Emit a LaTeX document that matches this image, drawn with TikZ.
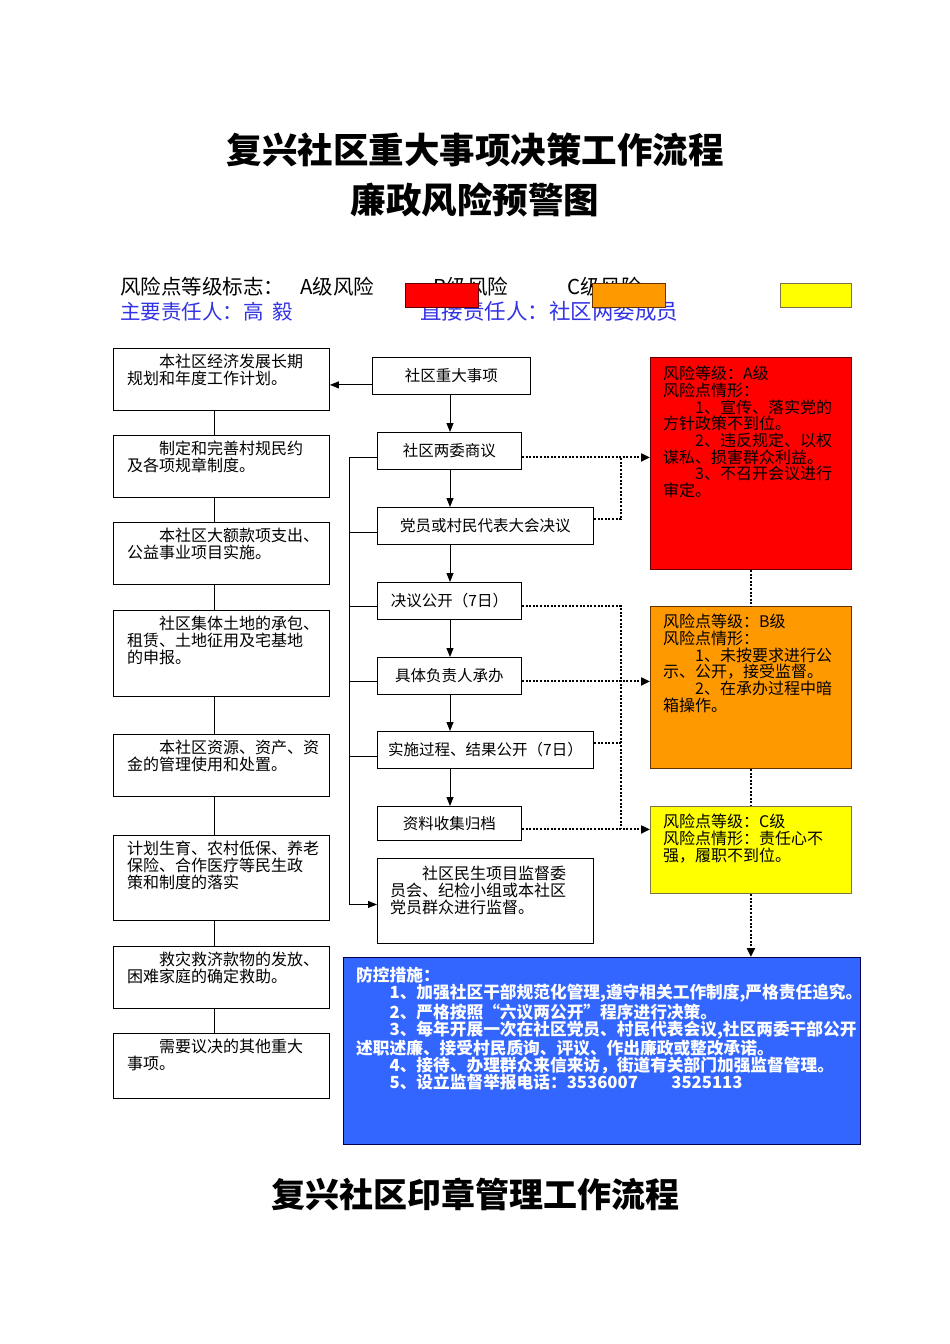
\documentclass[tikz,border=0pt]{standalone}
\usepackage{fontspec}
\setmainfont{Noto Sans CJK SC}
\usetikzlibrary{arrows.meta,positioning}
\definecolor{riskred}{RGB}{255,0,0}
\definecolor{riskorange}{RGB}{255,153,0}
\definecolor{riskyellow}{RGB}{255,255,0}
\definecolor{measureblue}{RGB}{51,102,255}
\definecolor{inkblue}{RGB}{51,51,230}
\tikzset{
  itembox/.style={draw, line width=0.9pt, anchor=north west, inner sep=0pt},
  itemtext/.style={anchor=north west, align=left, inner sep=0pt, font=\fontsize{16}{17}\selectfont},
  stepbox/.style={itembox, align=center, font=\fontsize{15.5}{17}\selectfont},
  riskbox/.style={itembox, minimum width=201, minimum height=#1},
  legendbox/.style={draw, line width=0.9pt, minimum width=73, minimum height=24, inner sep=0pt},
  link/.style={line width=0.9pt},
  flow/.style={line width=0.9pt, -{Triangle[length=9pt,width=7pt]}},
  riskline/.style={line width=2pt, dash pattern=on 2pt off 1.6pt},
  riskarrow/.style={riskline, -{Triangle[length=9pt,width=8pt]}}
}
\begin{document}
\begin{tikzpicture}[x=1pt, y=-1pt]
  \path[fill=white] (0,0) rectangle (950,1344);
  \node[font=\fontsize{35.5}{40}\selectfont\bfseries] (title1) at (475,150) {复兴社区重大事项决策工作流程};
  \node[font=\fontsize{35.5}{40}\selectfont\bfseries] (title2) at (475,200) {廉政风险预警图};
  \node[font=\fontsize{34}{38}\selectfont\bfseries] (title3) at (475,1194) {复兴社区印章管理工作流程};

  \node[anchor=west, inner sep=0pt, font=\fontsize{20.5}{22}\selectfont] (legend) at (120,287) {风险点等级标志：};
  \node[anchor=west, inner sep=0pt, font=\fontsize{20.5}{22}\selectfont] (legA) at (300,287) {A级风险};
  \node[anchor=west, inner sep=0pt, font=\fontsize{20.5}{22}\selectfont] (legB) at (433,287) {B级风险};
  \node[anchor=west, inner sep=0pt, font=\fontsize{20.5}{22}\selectfont] (legC) at (567,287) {C级风险};
  \node[anchor=west, inner sep=0pt, text=inkblue, font=\fontsize{20.5}{22}\selectfont] (chief) at (120,311.5) {主要责任人：高\ \ 毅};
  \node[anchor=west, inner sep=0pt, text=inkblue, font=\fontsize{21.5}{22}\selectfont] (direct) at (420,311.5) {直接责任人：社区两委成员};
  \node[legendbox, fill=riskred, draw=red!40!black, anchor=north west] (keyA) at (405,283) {};
  \node[legendbox, fill=riskorange, draw=orange!40!black, anchor=north west] (keyB) at (592,283) {};
  \node[legendbox, fill=riskyellow, draw=yellow!40!black, anchor=north west, minimum width=71] (keyC) at (780,283) {};

  \node[itembox, minimum width=216, minimum height=62] (plan) at (113,348) {};
  \node[itembox, minimum width=216, minimum height=62] (rules) at (113,435) {};
  \node[itembox, minimum width=216, minimum height=62] (spend) at (113,522) {};
  \node[itembox, minimum width=216, minimum height=86] (land) at (113,610) {};
  \node[itembox, minimum width=216, minimum height=62] (asset) at (113,734) {};
  \node[itembox, minimum width=216, minimum height=85] (welfare) at (113,835) {};
  \node[itembox, minimum width=216, minimum height=62] (relief) at (113,946) {};
  \node[itembox, minimum width=216, minimum height=65] (other) at (113,1033) {};
  \node[itemtext] (plantext) at ([shift={(14,6)}]plan.north west) {　　本社区经济发展长期\\规划和年度工作计划。};
  \node[itemtext] (rulestext) at ([shift={(14,6)}]rules.north west) {　　制定和完善村规民约\\及各项规章制度。};
  \node[itemtext] (spendtext) at ([shift={(14,6)}]spend.north west) {　　本社区大额款项支出、\\公益事业项目实施。};
  \node[itemtext] (landtext) at ([shift={(14,6)}]land.north west) {　　社区集体土地的承包、\\租赁、土地征用及宅基地\\的申报。};
  \node[itemtext] (assettext) at ([shift={(14,6)}]asset.north west) {　　本社区资源、资产、资\\金的管理使用和处置。};
  \node[itemtext] (welfaretext) at ([shift={(14,6)}]welfare.north west) {计划生育、农村低保、养老\\保险、合作医疗等民生政\\策和制度的落实};
  \node[itemtext] (relieftext) at ([shift={(14,6)}]relief.north west) {　　救灾救济款物的发放、\\困难家庭的确定救助。};
  \node[itemtext] (othertext) at ([shift={(14,6)}]other.north west) {　　需要议决的其他重大\\事项。};

  \node[stepbox, minimum width=158, minimum height=37] (major) at (372,357) {社区重大事项};
  \node[stepbox, minimum width=144, minimum height=37] (council) at (377,432) {社区两委商议};
  \node[stepbox, minimum width=216, minimum height=37] (vote) at (377,507) {党员或村民代表大会决议};
  \node[stepbox, minimum width=144, minimum height=37] (pub) at (377,582) {决议公开（7日）};
  \node[stepbox, minimum width=144, minimum height=37] (handle) at (377,657) {具体负责人承办};
  \node[stepbox, minimum width=216, minimum height=37] (impl) at (377,731) {实施过程、结果公开（7日）};
  \node[stepbox, minimum width=144, minimum height=34] (archive) at (377,806) {资料收集归档};
  \node[itembox, minimum width=216, minimum height=85] (monitor) at (377,858) {};
  \node[itemtext] (monitortext) at ([shift={(13,8)}]monitor.north west) {　　社区民生项目监督委\\员会、纪检小组或本社区\\党员群众进行监督。};

  \node[riskbox=212, fill=riskred, draw=red!40!black] (riskA) at (650,357) {};
  \node[riskbox=162, fill=riskorange, draw=orange!40!black] (riskB) at (650,606) {};
  \node[riskbox=87, fill=riskyellow, draw=yellow!40!black] (riskC) at (650,806) {};
  \node[itemtext, font=\fontsize{16}{16.7}\selectfont] (riskAtext) at ([shift={(13,9)}]riskA.north west) {风险等级：A级\\风险点情形：\\　　1、宣传、落实党的\\方针政策不到位。\\　　2、违反规定、以权\\谋私、损害群众利益。\\　　3、不召开会议进行\\审定。};
  \node[itemtext, font=\fontsize{16}{16.7}\selectfont] (riskBtext) at ([shift={(13,8)}]riskB.north west) {风险点等级：B级\\风险点情形：\\　　1、未按要求进行公\\示、公开，接受监督。\\　　2、在承办过程中暗\\箱操作。};
  \node[itemtext, font=\fontsize{16}{16.7}\selectfont] (riskCtext) at ([shift={(13,8)}]riskC.north west) {风险点等级：C级\\风险点情形：责任心不\\强，履职不到位。};

  \node[itembox, minimum width=517, minimum height=187, fill=measureblue, draw=blue!30!black] (measure) at (343,957) {};
  \node[itemtext, text=white, font=\fontsize{16.7}{17.2}\selectfont\bfseries] (measuretext) at ([shift={(13,10)}]measure.north west) {防控措施：\\　　1、加强社区干部规范化管理,遵守相关工作制度,严格责任追究。\\　　2、严格按照“六议两公开”程序进行决策。\\　　3、每年开展一次在社区党员、村民代表会议,社区两委干部公开\\述职述廉、接受村民质询、评议、作出廉政或整改承诺。\\　　4、接待、办理群众来信来访，街道有关部门加强监督管理。\\　　5、设立监督举报电话：3536007\quad\quad 3525113};

  \coordinate (lspine) at (214,0);
  \coordinate (spine) at (450,0);
  \coordinate (bus) at (349,0);
  \coordinate (dotbus) at (621,0);

  \begin{scope}[link]
    \draw (plan.south -| lspine) to (rules.north -| lspine);
    \draw (rules.south -| lspine) to (spend.north -| lspine);
    \draw (spend.south -| lspine) to (land.north -| lspine);
    \draw (land.south -| lspine) to (asset.north -| lspine);
    \draw (asset.south -| lspine) to (welfare.north -| lspine);
    \draw (welfare.south -| lspine) to (relief.north -| lspine);
    \draw (relief.south -| lspine) to (other.north -| lspine);
    \draw ([yshift=-6.5pt]council.west -| bus) to ([yshift=-3.5pt]monitor.west -| bus);
    \draw ([yshift=-6.5pt]council.west) to ([yshift=-6.5pt]council.west -| bus);
    \draw ([yshift=-6.5pt]vote.west) to ([yshift=-6.5pt]vote.west -| bus);
    \draw ([yshift=-5.5pt]pub.west) to ([yshift=-5.5pt]pub.west -| bus);
    \draw ([yshift=-5.5pt]handle.west) to ([yshift=-5.5pt]handle.west -| bus);
    \draw ([yshift=-6.5pt]impl.west) to ([yshift=-6.5pt]impl.west -| bus);
  \end{scope}
  \begin{scope}[flow]
    \draw ([yshift=10pt]major.south west) to ([yshift=10pt]major.south west -| plan.east);
    \draw (major.south -| spine) to (council.north -| spine);
    \draw (council.south -| spine) to (vote.north -| spine);
    \draw (vote.south -| spine) to (pub.north -| spine);
    \draw (pub.south -| spine) to (handle.north -| spine);
    \draw (handle.south -| spine) to (impl.north -| spine);
    \draw (impl.south -| spine) to (archive.north -| spine);
    \draw ([yshift=-3.5pt]monitor.west -| bus) to ([yshift=-3.5pt]monitor.west);
  \end{scope}
  \begin{scope}[riskline]
    \draw ([yshift=6.5pt]vote.east) -| ([yshift=-6.5pt]council.east -| dotbus);
    \draw ([yshift=-5.5pt]pub.east) -| ([yshift=-6pt]archive.east -| dotbus);
    \draw ([yshift=6.5pt]impl.east) to ([yshift=6.5pt]impl.east -| dotbus);
    \draw (riskA.south) to (riskB.north);
    \draw (riskB.south) to (riskC.north);
    \draw[riskarrow] ([yshift=-6.5pt]council.east) to ([yshift=-6.5pt]council.east -| riskA.west);
    \draw[riskarrow] ([yshift=-5.5pt]handle.east) to ([yshift=-5.5pt]handle.east -| riskB.west);
    \draw[riskarrow] ([yshift=-6pt]archive.east) to ([yshift=-6pt]archive.east -| riskC.west);
    \draw[riskarrow] (riskC.south) to (riskC.south |- measure.north);
  \end{scope}
\end{tikzpicture}
\end{document}
